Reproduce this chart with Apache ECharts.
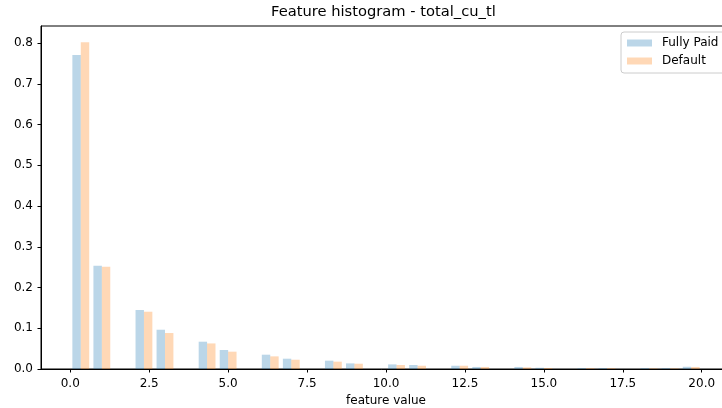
<!DOCTYPE html>
<html>
<head>
<meta charset="utf-8">
<script src="https://cdn.jsdelivr.net/npm/echarts@6/dist/echarts.min.js"></script>
<style>
html,body{margin:0;padding:0;background:#fff;}
#chart{width:722px;height:408px;}
</style>
</head>
<body>
<div id="chart"></div>
<script>
// Histogram data (density), feature values 0..20
const featureValues = [0,1,2,3,4,5,6,7,8,9,10,11,12,13,14,15,16,17,18,19,20];
const fullyPaid = [0.771,0.2535,0.1448,0.0964,0.067,0.0466,0.0351,0.0253,0.0204,0.0138,0.0113,0.0098,0.008,0.005,0.005,0.003,0.002,0.002,0.002,0.002,0.0055];
const defaulted = [0.802,0.251,0.1406,0.0883,0.0628,0.0425,0.031,0.0228,0.018,0.013,0.0098,0.008,0.008,0.005,0.004,0.0025,0.002,0.002,0.0015,0.0015,0.005];
const seriesNames = ['Fully Paid','Default'];
const xTickLabels = [0,2.5,5,7.5,10,12.5,15,17.5,20];
const yTickLabels = [0,0.1,0.2,0.3,0.4,0.5,0.6,0.7,0.8];

// histogram binning (30 bins over [0, 20])
const nBins = 30, rangeMin = 0, rangeMax = 20;
const bw = (rangeMax - rangeMin) / nBins;
function barData(values, s) {
  return featureValues.map((v, i) => {
    const idx = Math.min(Math.floor((v - rangeMin) / bw + 1e-9), nBins - 1);
    const lo = rangeMin + idx * bw;
    const start = lo + 0.1 * bw + s * 0.4 * bw;
    return [start, start + 0.4 * bw, values[i]];
  });
}
const colors = ['rgba(31,119,180,0.3)', 'rgba(255,127,14,0.3)'];
function makeSeries(name, values, s) {
  return {
    name: name,
    type: 'custom',
    color: colors[s],
    data: barData(values, s),
    encode: { x: [0, 1], y: 2 },
    renderItem: function (params, api) {
      const p0 = api.coord([api.value(0), api.value(2)]);
      const p1 = api.coord([api.value(1), 0]);
      return {
        type: 'rect',
        shape: { x: p0[0], y: p0[1], width: p1[0] - p0[0], height: p1[1] - p0[1] },
        style: { fill: colors[s] }
      };
    }
  };
}

const chart = echarts.init(document.getElementById('chart'), null, { renderer: 'canvas' });
const font = 'DejaVu Sans';
chart.setOption({
  animation: false,
  backgroundColor: '#fff',
  title: {
    text: 'Feature histogram - total_cu_tl',
    left: 271,
    top: 5,
    padding: 0,
    textStyle: { fontFamily: font, fontSize: 14.7, fontWeight: 'normal', color: '#000' }
  },
  legend: {
    data: seriesNames.map(n => ({ name: n, icon: 'rect' })),
    orient: 'vertical',
    left: 621,
    top: 32,
    itemWidth: 25,
    itemHeight: 7,
    itemGap: 6,
    padding: [5, 20, 6, 6],
    borderColor: '#cccccc',
    borderWidth: 1,
    borderRadius: 3,
    backgroundColor: 'rgba(255,255,255,0.8)',
    textStyle: { fontFamily: font, fontSize: 12, lineHeight: 12, color: '#000', padding: [0, 0, 0, 5] }
  },
  grid: {
    left: 41, top: 26, width: 690, height: 343,
    show: true, borderColor: '#000', borderWidth: 1, backgroundColor: 'transparent',
    containLabel: false,
    outerBoundsMode: 'none'
  },
  xAxis: {
    type: 'value',
    min: -0.927, max: 20.927,
    name: 'feature value',
    nameLocation: 'middle',
    nameGap: 26,
    nameTextStyle: { fontFamily: font, fontSize: 12, color: '#000' },
    axisLine: { show: true, onZero: false, lineStyle: { color: '#000', width: 1 } },
    axisTick: { show: true, length: 3.5, lineStyle: { color: '#000' }, customValues: xTickLabels },
    axisLabel: {
      customValues: xTickLabels,
      formatter: v => Number(v).toFixed(1),
      fontFamily: font, fontSize: 12, color: '#000', margin: 9
    },
    splitLine: { show: false }
  },
  yAxis: {
    type: 'value',
    min: 0, max: 0.842,
    axisLine: { show: true, onZero: false, lineStyle: { color: '#000', width: 1 } },
    axisTick: { show: true, length: 3.5, lineStyle: { color: '#000' }, customValues: yTickLabels },
    axisLabel: {
      customValues: yTickLabels,
      formatter: v => Number(v).toFixed(1),
      fontFamily: font, fontSize: 12, color: '#000', margin: 8
    },
    splitLine: { show: false }
  },
  series: [
    makeSeries(seriesNames[0], fullyPaid, 0),
    makeSeries(seriesNames[1], defaulted, 1)
  ]
});
</script>
</body>
</html>
